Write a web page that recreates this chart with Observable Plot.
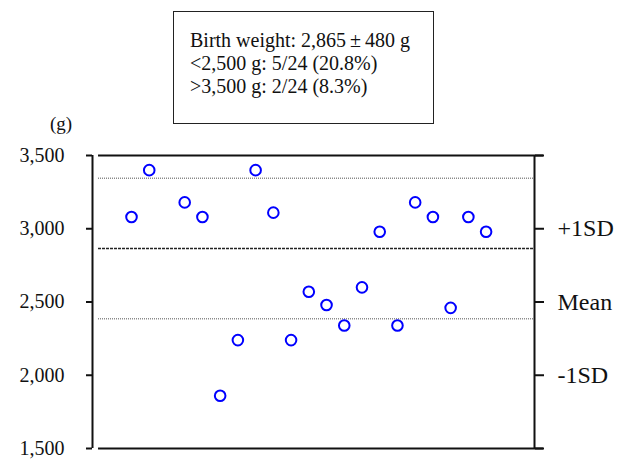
<!DOCTYPE html>
<html>
<head>
<meta charset="utf-8">
<script src="https://cdn.jsdelivr.net/npm/d3@7"></script>
<script src="https://cdn.jsdelivr.net/npm/@observablehq/plot@0.6"></script>
<style>
  body { margin: 0; background: #fff; }
  #wrap { position: relative; width: 621px; height: 461px; font-family: "Liberation Serif", "DejaVu Serif", serif; color: #111; }
  #box { position: absolute; left: 173px; top: 11px; width: 261px; height: 113px; box-sizing: border-box;
         border: 1.5px solid #222; padding: 17px 0 0 16px; font-size: 20px; line-height: 23px; }
  #unit { position: absolute; left: 50px; top: 113px; font-size: 19px; line-height: 22px; }
  #chart { position: absolute; left: 0; top: 0; }
</style>
</head>
<body>
<div id="wrap">
  <div id="chart"></div>
  <div id="box"></div>
  <div id="unit">(g)</div>
</div>
<script>
// ---- data ----
const caseIds = [1, 2, 4, 5, 6, 7, 8, 9, 10, 11, 12, 13, 14, 15, 16, 17, 18, 19, 20, 21];
const birthWeights = [3080, 3400, 3180, 3080, 1860, 2240, 3400, 3110, 2240, 2570, 2480, 2340, 2600, 2980, 2340, 3180, 3080, 2460, 3080, 2980];
const meanWeight = 2865;
const sdWeight = 480;
const leftTicks = [1500, 2000, 2500, 3000, 3500];
const rightTicks = [1500, 2000, 2500, 3000, 3500];
const rightTickLabels = ["", "-1SD", "Mean", "+1SD", ""];
const boxLines = ["Birth weight: 2,865\u2009\u00B1\u2009480 g", "<2,500 g: 5/24 (20.8%)", ">3,500 g: 2/24 (8.3%)"];

// ---- layout ----
const xDomain = [-1.2, 23.73];
const frameX1 = -0.86, frameX2 = 24.24;
const rightLabel = new Map(rightTicks.map((t, i) => [t, rightTickLabels[i]]));
const pts = caseIds.map((id, i) => ({id, w: birthWeights[i]}));

document.getElementById("box").innerHTML = boxLines.map(s => `<div>${s.replace(/</g, "&lt;").replace(/>/g, "&gt;")}</div>`).join("");

const chart = Plot.plot({
  width: 621,
  height: 461,
  marginLeft: 92,
  marginRight: 87,
  marginTop: 155,
  marginBottom: 13,
  style: {fontFamily: "Liberation Serif, serif", background: "transparent", color: "#111"},
  x: {domain: xDomain, axis: null},
  y: {domain: [1500, 3500]},
  marks: [
    Plot.axisY({anchor: "left", ticks: leftTicks, tickSize: 6, tickPadding: 22, tickFormat: d3.format(","), fontSize: 20, label: null, strokeWidth: 2}),
    Plot.axisY({anchor: "right", ticks: rightTicks, tickSize: 9, tickPadding: 14, tickFormat: d => rightLabel.get(d), fontSize: 24, label: null, strokeWidth: 2}),
    Plot.ruleX([xDomain[0]], {y1: 1500, y2: 3500, strokeWidth: 2}),
    Plot.ruleX([xDomain[1]], {y1: 1500, y2: 3500, strokeWidth: 2}),
    Plot.ruleY([1500, 3500], {x1: frameX1, x2: frameX2, strokeWidth: 2}),
    Plot.ruleY([meanWeight + sdWeight, meanWeight - sdWeight], {x1: frameX1, x2: xDomain[1], stroke: "#8a8a8a", strokeWidth: 1.5, strokeDasharray: "1,1"}),
    Plot.ruleY([meanWeight], {x1: frameX1, x2: xDomain[1], stroke: "#222", strokeWidth: 1.5, strokeDasharray: "3,1"}),
    Plot.dot(pts, {x: "id", y: "w", r: 5.3, stroke: "#0000ff", strokeWidth: 2, fill: "white"})
  ]
});
document.getElementById("chart").appendChild(chart);
</script>
</body>
</html>
